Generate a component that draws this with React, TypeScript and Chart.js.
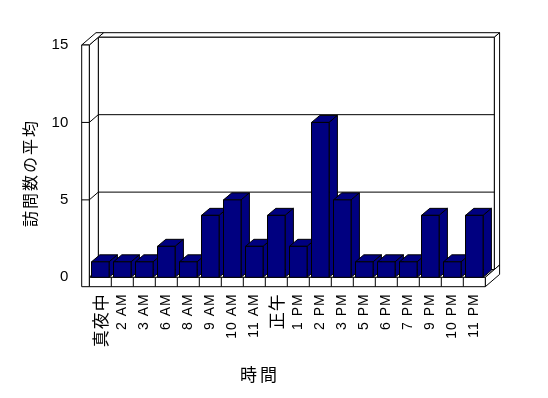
import React, { useEffect, useRef } from "react";
import { Chart, registerables } from "chart.js";

Chart.register(...registerables);

const categories = ["真夜中", "2 AM", "3 AM", "6 AM", "8 AM", "9 AM", "10 AM", "11 AM", "正午", "1 PM", "2 PM", "3 PM", "5 PM", "6 PM", "7 PM", "9 PM", "10 PM", "11 PM"];
const visits = [1, 1, 1, 2, 1, 4, 5, 2, 4, 2, 10, 5, 1, 1, 1, 4, 1, 4];
const yTickValues = [0, 5, 10, 15];
const xTitle = "時間";
const yTitle = "訪問数の平均";

const NAVY = "#000080";
const LATIN = "'Liberation Sans', Arial, sans-serif";
const CJK = "'Noto Sans CJK JP', sans-serif";
const OUT = { dx: 14.3, dy: -12.3 };
const IN = { dx: 9, dy: -7.75 };
const BAR_D = { dx: 8.3, dy: -7 };
const SLAB = 7.6;
const FLOOR = 9.4;

const isCJK = (s: string) => /[\u3000-\u9fff]/.test(s);

type Pt = [number, number];

function poly(ctx: CanvasRenderingContext2D, pts: Pt[], fill: string) {
  ctx.beginPath();
  ctx.moveTo(pts[0][0], pts[0][1]);
  for (let i = 1; i < pts.length; i++) ctx.lineTo(pts[i][0], pts[i][1]);
  ctx.closePath();
  ctx.fillStyle = fill;
  ctx.fill();
  ctx.stroke();
}

function line(ctx: CanvasRenderingContext2D, x1: number, y1: number, x2: number, y2: number) {
  ctx.beginPath();
  ctx.moveTo(x1, y1);
  ctx.lineTo(x2, y2);
  ctx.stroke();
}

const frame3d = {
  id: "frame3d",
  beforeDraw(chart: any) {
    const sx = chart.scales.x;
    if (sx && !sx.__ls) {
      const orig = sx.drawLabels;
      sx.drawLabels = function (area: any) {
        const c = this.ctx;
        const prev = c.letterSpacing;
        c.letterSpacing = "1px";
        orig.call(this, area);
        c.letterSpacing = prev;
      };
      sx.__ls = true;
    }
  },
  beforeDatasetsDraw(chart: any) {
    const ctx: CanvasRenderingContext2D = chart.ctx;
    const { left: L, right: R, top: T, bottom: B } = chart.chartArea;
    const ys = chart.scales.y;
    ctx.save();
    ctx.strokeStyle = "#000";
    ctx.lineWidth = 1;
    const W = "#fff";
    poly(ctx, [[L + IN.dx, T + IN.dy], [R + IN.dx, T + IN.dy], [R + OUT.dx, T + OUT.dy], [L + OUT.dx, T + OUT.dy]], W);
    poly(ctx, [[R + IN.dx, T + IN.dy], [R + OUT.dx, T + OUT.dy], [R + OUT.dx, B + OUT.dy], [R + IN.dx, B + IN.dy]], W);
    poly(ctx, [[L + IN.dx, T + IN.dy], [R + IN.dx, T + IN.dy], [R + IN.dx, B + IN.dy], [L + IN.dx, B + IN.dy]], W);
    poly(ctx, [[L, T], [L + IN.dx, T + IN.dy], [L + IN.dx, B + IN.dy], [L, B]], W);
    for (const v of yTickValues) {
      if (v <= 0 || v >= 15) continue;
      const py = ys.getPixelForValue(v);
      line(ctx, L, py, L + IN.dx, py + IN.dy);
      line(ctx, L + IN.dx, py + IN.dy, R + IN.dx, py + IN.dy);
    }
    poly(ctx, [[L - SLAB, T], [L, T], [L + OUT.dx, T + OUT.dy], [L - SLAB + OUT.dx, T + OUT.dy]], W);
    poly(ctx, [[L, B], [R, B], [R + IN.dx, B + IN.dy], [L + IN.dx, B + IN.dy]], W);
    poly(ctx, [[R, B], [R + OUT.dx, B + OUT.dy], [R + OUT.dx, B + FLOOR + OUT.dy], [R, B + FLOOR]], W);
    poly(ctx, [[L, B], [R, B], [R, B + FLOOR], [L, B + FLOOR]], W);
    const n = categories.length;
    for (let i = 1; i < n; i++) {
      const x = L + (i * (R - L)) / n;
      line(ctx, x, B, x, B + FLOOR);
    }
    poly(ctx, [[L - SLAB, T], [L, T], [L, B + FLOOR], [L - SLAB, B + FLOOR]], W);
    for (const v of yTickValues) {
      if (v <= 0 || v >= 15) continue;
      const py = ys.getPixelForValue(v);
      line(ctx, L - SLAB, py, L, py);
    }
    ctx.restore();
  },
  afterDatasetsDraw(chart: any) {
    const ctx: CanvasRenderingContext2D = chart.ctx;
    const meta = chart.getDatasetMeta(0);
    ctx.save();
    ctx.strokeStyle = "#000";
    ctx.lineWidth = 1;
    meta.data.forEach((bar: any) => {
      const { x, y, base, width } = bar.getProps(["x", "y", "base", "width"], true);
      const l = x - width / 2;
      const r = x + width / 2;
      poly(ctx, [[l, y], [r, y], [r + BAR_D.dx, y + BAR_D.dy], [l + BAR_D.dx, y + BAR_D.dy]], NAVY);
      poly(ctx, [[r, y], [r + BAR_D.dx, y + BAR_D.dy], [r + BAR_D.dx, base + BAR_D.dy], [r, base]], NAVY);
      poly(ctx, [[l, y], [r, y], [r, base], [l, base]], NAVY);
    });
    ctx.restore();
  },
  afterDraw(chart: any) {
    const ctx: CanvasRenderingContext2D = chart.ctx;
    ctx.save();
    ctx.fillStyle = "#000";
    ctx.textAlign = "center";
    ctx.textBaseline = "middle";
    (ctx as any).letterSpacing = "3px";
    ctx.font = `17px ${CJK}`;
    ctx.fillText(xTitle, 260, 375);
    ctx.translate(30, 173);
    ctx.rotate(-Math.PI / 2);
    (ctx as any).letterSpacing = "2px";
    ctx.font = `16px ${CJK}`;
    ctx.fillText(yTitle, 0, 0);
    ctx.restore();
  },
};

export default function App() {
  const ref = useRef<HTMLCanvasElement>(null);
  useEffect(() => {
    document.body.style.margin = "0";
    Chart.defaults.color = "#000";
    const chart = new Chart(ref.current as HTMLCanvasElement, {
      type: "bar",
      data: {
        labels: categories,
        datasets: [
          {
            data: visits,
            backgroundColor: NAVY,
            borderColor: "#000",
            borderWidth: 1,
            borderSkipped: false,
            barPercentage: 0.8,
            categoryPercentage: 1.0,
          },
        ],
      },
      options: {
        responsive: false,
        animation: false,
        layout: { padding: { left: 0, top: 45, right: 62.7, bottom: 0 } },
        plugins: { legend: { display: false }, tooltip: { enabled: false } },
        scales: {
          x: {
            grid: { display: false, drawTicks: false },
            border: { display: false },
            ticks: {
              autoSkip: false,
              minRotation: 90,
              maxRotation: 90,
              padding: 16,
              color: "#000",
              font: (c: any) => {
                const lab = categories[c.index] || "";
                return isCJK(lab) ? { family: CJK, size: 17 } : { family: LATIN, size: 14 };
              },
            },
            afterFit: (s: any) => {
              s.height = 398 - 277.3;
            },
          },
          y: {
            min: 0,
            max: 15,
            grid: { display: false, drawTicks: false },
            border: { display: false },
            ticks: {
              stepSize: 5,
              padding: 21,
              color: "#000",
              font: { family: LATIN, size: 15 },
            },
            afterFit: (s: any) => {
              s.width = 89.3;
            },
          },
        },
      },
      plugins: [frame3d],
    });
    return () => chart.destroy();
  }, []);
  return (
    <div style={{ width: 548, height: 398 }}>
      <canvas ref={ref} width={548} height={398} style={{ display: "block" }} />
    </div>
  );
}
